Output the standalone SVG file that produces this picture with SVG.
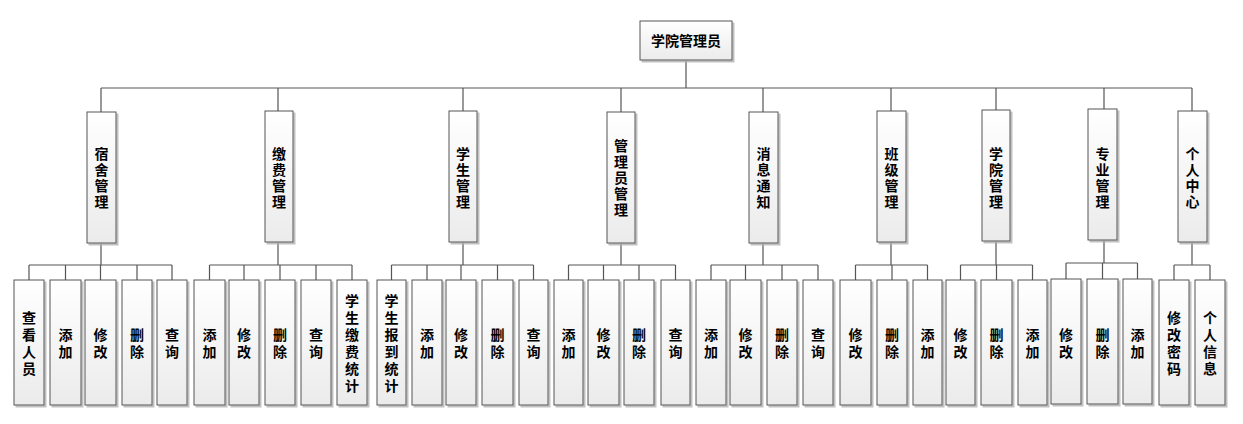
<svg xmlns="http://www.w3.org/2000/svg" width="1243" height="424" viewBox="0 0 1243 424">
<style>
.b{fill:url(#g);stroke:#555;stroke-width:1;filter:url(#s)}
.t{font-family:"Noto Sans CJK SC","Noto Sans",sans-serif;font-size:14px;font-weight:bold;fill:#000;text-anchor:middle;dominant-baseline:central}
.c{stroke:#555;stroke-width:1.2;fill:none}
</style>
<defs>
<linearGradient id="g" x1="0" y1="0" x2="0" y2="1"><stop offset="0" stop-color="#ffffff"/><stop offset="1" stop-color="#ebebeb"/></linearGradient>
<filter id="s" x="-20%" y="-20%" width="150%" height="150%"><feDropShadow dx="2" dy="2" stdDeviation="0.6" flood-color="#b0b0b0" flood-opacity="0.8"/></filter>
</defs>
<rect width="1243" height="424" fill="#fff"/>
<g id="connectors">
<path class="c" d="M686 60V88M101 88H1192M101 88V112M278 88V111M463 88V111M621 88V112M763 88V112M891 88V111M996 88V110M1104 88V109M1192 88V111"/>
<path class="c" d="M101 243V265M29 265H172M29 265V280M65.5 265V280M100.5 265V280M137 265V280M172 265V280"/>
<path class="c" d="M278 242V265M209.5 265H352M209.5 265V280M244 265V280M280 265V280M316 265V280M352 265V280"/>
<path class="c" d="M463 242V265M391.5 265H533.5M391.5 265V280M427 265V280M461 265V280M497.5 265V280M533.5 265V280"/>
<path class="c" d="M621 243V265M568.5 265H675.5M568.5 265V280M603.5 265V280M639 265V280M675.5 265V280"/>
<path class="c" d="M763 243V265M711 265H818M711 265V280M745.5 265V280M782 265V280M818 265V280"/>
<path class="c" d="M891 242V265M855.5 265H927.5M855.5 265V280M892 265V280M927.5 265V280"/>
<path class="c" d="M996 241V265M960.5 265H1032.5M960.5 265V280M996.5 265V280M1032.5 265V280"/>
<path class="c" d="M1104 240V263M1066 263H1137.5M1066 263V279M1102.5 263V279M1137.5 263V279"/>
<path class="c" d="M1192 242V265M1174 265H1210M1174 265V280M1210 265V280"/>
</g>
<g id="root"><rect class="b" x="640" y="21" width="92" height="39"/><text class="t" x="686" y="40">学院管理员</text></g>
<g id="n-sushe"><rect class="b" x="87" y="112" width="29" height="131"/><text class="t"><tspan x="101.5" y="153">宿</tspan><tspan x="101.5" y="169">舍</tspan><tspan x="101.5" y="185">管</tspan><tspan x="101.5" y="201">理</tspan></text></g>
<g id="n-jiaofei"><rect class="b" x="265" y="111" width="28" height="131"/><text class="t"><tspan x="279" y="153">缴</tspan><tspan x="279" y="169">费</tspan><tspan x="279" y="185">管</tspan><tspan x="279" y="201">理</tspan></text></g>
<g id="n-xuesheng"><rect class="b" x="449" y="111" width="28" height="131"/><text class="t"><tspan x="463" y="153">学</tspan><tspan x="463" y="169">生</tspan><tspan x="463" y="185">管</tspan><tspan x="463" y="201">理</tspan></text></g>
<g id="n-guanliyuan"><rect class="b" x="607" y="112" width="28" height="131"/><text class="t"><tspan x="621" y="145">管</tspan><tspan x="621" y="161">理</tspan><tspan x="621" y="177">员</tspan><tspan x="621" y="193">管</tspan><tspan x="621" y="209">理</tspan></text></g>
<g id="n-xiaoxi"><rect class="b" x="749" y="112" width="29" height="131"/><text class="t"><tspan x="763.5" y="153">消</tspan><tspan x="763.5" y="169">息</tspan><tspan x="763.5" y="185">通</tspan><tspan x="763.5" y="201">知</tspan></text></g>
<g id="n-banji"><rect class="b" x="877" y="111" width="29" height="131"/><text class="t"><tspan x="891.5" y="153">班</tspan><tspan x="891.5" y="169">级</tspan><tspan x="891.5" y="185">管</tspan><tspan x="891.5" y="201">理</tspan></text></g>
<g id="n-xueyuan"><rect class="b" x="982" y="110" width="28" height="131"/><text class="t"><tspan x="996" y="153">学</tspan><tspan x="996" y="169">院</tspan><tspan x="996" y="185">管</tspan><tspan x="996" y="201">理</tspan></text></g>
<g id="n-zhuanye"><rect class="b" x="1088" y="109" width="29" height="131"/><text class="t"><tspan x="1102.5" y="153">专</tspan><tspan x="1102.5" y="169">业</tspan><tspan x="1102.5" y="185">管</tspan><tspan x="1102.5" y="201">理</tspan></text></g>
<g id="n-geren"><rect class="b" x="1178" y="111" width="29" height="131"/><text class="t"><tspan x="1192.5" y="153">个</tspan><tspan x="1192.5" y="169">人</tspan><tspan x="1192.5" y="185">中</tspan><tspan x="1192.5" y="201">心</tspan></text></g>
<g id="l1"><rect class="b" x="14" y="280" width="30" height="125"/><text class="t"><tspan x="29" y="316.5">查</tspan><tspan x="29" y="333.5">看</tspan><tspan x="29" y="350.5">人</tspan><tspan x="29" y="367.5">员</tspan></text></g>
<g id="l2"><rect class="b" x="50" y="280" width="31" height="125"/><text class="t"><tspan x="65.5" y="333.5">添</tspan><tspan x="65.5" y="350.5">加</tspan></text></g>
<g id="l3"><rect class="b" x="85" y="280" width="31" height="125"/><text class="t"><tspan x="100.5" y="333.5">修</tspan><tspan x="100.5" y="350.5">改</tspan></text></g>
<g id="l4"><rect class="b" x="122" y="280" width="30" height="125"/><text class="t"><tspan x="137" y="333.5">删</tspan><tspan x="137" y="350.5">除</tspan></text></g>
<g id="l5"><rect class="b" x="157" y="280" width="30" height="125"/><text class="t"><tspan x="172" y="333.5">查</tspan><tspan x="172" y="350.5">询</tspan></text></g>
<g id="l6"><rect class="b" x="194" y="280" width="31" height="125"/><text class="t"><tspan x="209.5" y="333.5">添</tspan><tspan x="209.5" y="350.5">加</tspan></text></g>
<g id="l7"><rect class="b" x="229" y="280" width="30" height="125"/><text class="t"><tspan x="244" y="333.5">修</tspan><tspan x="244" y="350.5">改</tspan></text></g>
<g id="l8"><rect class="b" x="265" y="280" width="30" height="125"/><text class="t"><tspan x="280" y="333.5">删</tspan><tspan x="280" y="350.5">除</tspan></text></g>
<g id="l9"><rect class="b" x="301" y="280" width="30" height="125"/><text class="t"><tspan x="316" y="333.5">查</tspan><tspan x="316" y="350.5">询</tspan></text></g>
<g id="l10"><rect class="b" x="337" y="280" width="30" height="125"/><text class="t"><tspan x="352" y="299.5">学</tspan><tspan x="352" y="316.5">生</tspan><tspan x="352" y="333.5">缴</tspan><tspan x="352" y="350.5">费</tspan><tspan x="352" y="367.5">统</tspan><tspan x="352" y="384.5">计</tspan></text></g>
<g id="l11"><rect class="b" x="377" y="280" width="29" height="125"/><text class="t"><tspan x="391.5" y="299.5">学</tspan><tspan x="391.5" y="316.5">生</tspan><tspan x="391.5" y="333.5">报</tspan><tspan x="391.5" y="350.5">到</tspan><tspan x="391.5" y="367.5">统</tspan><tspan x="391.5" y="384.5">计</tspan></text></g>
<g id="l12"><rect class="b" x="412" y="280" width="30" height="125"/><text class="t"><tspan x="427" y="333.5">添</tspan><tspan x="427" y="350.5">加</tspan></text></g>
<g id="l13"><rect class="b" x="446" y="280" width="30" height="125"/><text class="t"><tspan x="461" y="333.5">修</tspan><tspan x="461" y="350.5">改</tspan></text></g>
<g id="l14"><rect class="b" x="482" y="280" width="31" height="125"/><text class="t"><tspan x="497.5" y="333.5">删</tspan><tspan x="497.5" y="350.5">除</tspan></text></g>
<g id="l15"><rect class="b" x="519" y="280" width="29" height="125"/><text class="t"><tspan x="533.5" y="333.5">查</tspan><tspan x="533.5" y="350.5">询</tspan></text></g>
<g id="l16"><rect class="b" x="554" y="280" width="29" height="125"/><text class="t"><tspan x="568.5" y="333.5">添</tspan><tspan x="568.5" y="350.5">加</tspan></text></g>
<g id="l17"><rect class="b" x="588" y="280" width="31" height="125"/><text class="t"><tspan x="603.5" y="333.5">修</tspan><tspan x="603.5" y="350.5">改</tspan></text></g>
<g id="l18"><rect class="b" x="624" y="280" width="30" height="125"/><text class="t"><tspan x="639" y="333.5">删</tspan><tspan x="639" y="350.5">除</tspan></text></g>
<g id="l19"><rect class="b" x="661" y="280" width="29" height="125"/><text class="t"><tspan x="675.5" y="333.5">查</tspan><tspan x="675.5" y="350.5">询</tspan></text></g>
<g id="l20"><rect class="b" x="696" y="280" width="30" height="125"/><text class="t"><tspan x="711" y="333.5">添</tspan><tspan x="711" y="350.5">加</tspan></text></g>
<g id="l21"><rect class="b" x="730" y="280" width="31" height="125"/><text class="t"><tspan x="745.5" y="333.5">修</tspan><tspan x="745.5" y="350.5">改</tspan></text></g>
<g id="l22"><rect class="b" x="767" y="280" width="30" height="125"/><text class="t"><tspan x="782" y="333.5">删</tspan><tspan x="782" y="350.5">除</tspan></text></g>
<g id="l23"><rect class="b" x="803" y="280" width="30" height="125"/><text class="t"><tspan x="818" y="333.5">查</tspan><tspan x="818" y="350.5">询</tspan></text></g>
<g id="l24"><rect class="b" x="840" y="280" width="31" height="125"/><text class="t"><tspan x="855.5" y="333.5">修</tspan><tspan x="855.5" y="350.5">改</tspan></text></g>
<g id="l25"><rect class="b" x="877" y="280" width="30" height="125"/><text class="t"><tspan x="892" y="333.5">删</tspan><tspan x="892" y="350.5">除</tspan></text></g>
<g id="l26"><rect class="b" x="913" y="280" width="29" height="125"/><text class="t"><tspan x="927.5" y="333.5">添</tspan><tspan x="927.5" y="350.5">加</tspan></text></g>
<g id="l27"><rect class="b" x="946" y="280" width="29" height="125"/><text class="t"><tspan x="960.5" y="333.5">修</tspan><tspan x="960.5" y="350.5">改</tspan></text></g>
<g id="l28"><rect class="b" x="981" y="280" width="31" height="125"/><text class="t"><tspan x="996.5" y="333.5">删</tspan><tspan x="996.5" y="350.5">除</tspan></text></g>
<g id="l29"><rect class="b" x="1018" y="280" width="29" height="125"/><text class="t"><tspan x="1032.5" y="333.5">添</tspan><tspan x="1032.5" y="350.5">加</tspan></text></g>
<g id="l30"><rect class="b" x="1051" y="279" width="30" height="125"/><text class="t"><tspan x="1066" y="333.5">修</tspan><tspan x="1066" y="350.5">改</tspan></text></g>
<g id="l31"><rect class="b" x="1087" y="279" width="31" height="125"/><text class="t"><tspan x="1102.5" y="333.5">删</tspan><tspan x="1102.5" y="350.5">除</tspan></text></g>
<g id="l32"><rect class="b" x="1123" y="279" width="29" height="125"/><text class="t"><tspan x="1137.5" y="333.5">添</tspan><tspan x="1137.5" y="350.5">加</tspan></text></g>
<g id="l33"><rect class="b" x="1159" y="280" width="30" height="125"/><text class="t"><tspan x="1174" y="316.5">修</tspan><tspan x="1174" y="333.5">改</tspan><tspan x="1174" y="350.5">密</tspan><tspan x="1174" y="367.5">码</tspan></text></g>
<g id="l34"><rect class="b" x="1195" y="280" width="30" height="125"/><text class="t"><tspan x="1210" y="316.5">个</tspan><tspan x="1210" y="333.5">人</tspan><tspan x="1210" y="350.5">信</tspan><tspan x="1210" y="367.5">息</tspan></text></g>
</svg>
